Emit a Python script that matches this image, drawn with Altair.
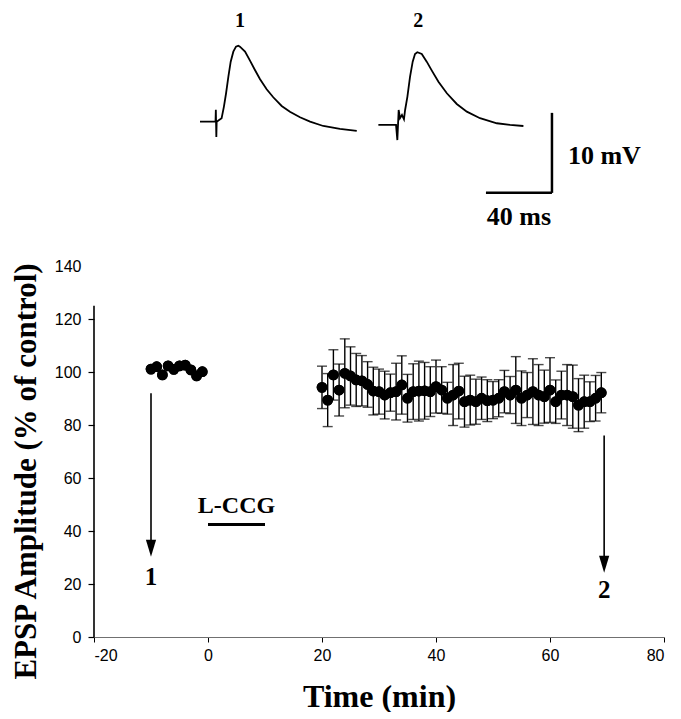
import altair as alt
import pandas as pd

# ---------------- time course (EPSP amplitude, % of control) ----------------
pre_time = [-10, -9, -8, -7, -6, -5, -4, -3, -2, -1]
pre_amp = [101.1, 102.0, 98.9, 102.3, 101.0, 102.3, 102.6, 100.8, 98.5, 100.1]

post_time = [20, 21, 22, 23, 24, 25, 26, 27, 28, 29,
             30, 31, 32, 33, 34, 35, 36, 37, 38, 39,
             40, 41, 42, 43, 44, 45, 46, 47, 48, 49,
             50, 51, 52, 53, 54, 55, 56, 57, 58, 59,
             60, 61, 62, 63, 64, 65, 66, 67, 68, 69]
post_amp = [94.2, 89.4, 98.9, 93.2, 99.5, 98.5, 97.0, 96.7, 95.3, 92.8,
            92.6, 91.3, 92.2, 92.6, 95.1, 90.1, 92.6, 92.8, 92.9, 92.6,
            94.5, 93.2, 90.1, 91.3, 92.8, 88.8, 89.4, 88.8, 90.1, 89.2,
            89.4, 90.1, 92.6, 91.3, 93.2, 90.1, 91.3, 92.6, 91.3, 90.7,
            93.2, 88.8, 91.3, 91.3, 90.7, 87.5, 88.8, 88.8, 90.1, 92.2]
post_sem = [8.0, 10.0, 9.5, 9.8, 13.0, 11.0, 10.0, 9.5, 8.6, 9.0,
            8.5, 9.0, 7.0, 10.7, 11.0, 9.0, 10.5, 11.3, 10.7, 9.4,
            10.0, 8.8, 6.0, 11.5, 10.5, 9.6, 9.4, 8.5, 8.0, 7.9,
            7.0, 7.0, 8.0, 7.0, 12.6, 10.3, 8.5, 12.4, 11.5, 10.0,
            12.2, 8.2, 9.0, 11.5, 11.9, 10.0, 10.0, 7.5, 8.6, 7.6]

# arrows marking the sampled sweeps
arrow_time = [-10, 69.5]
arrow_from = [92, 76]
arrow_head = [33.5, 27.5]
arrow_label_y = [22.6, 17.7]
arrow_labels = ["1", "2"]

# drug application bar
drug_label = "L-CCG"
drug_start, drug_end, drug_level = 0, 10, 42.5

# ---------------- sample EPSP sweeps (ms, mV rel. baseline) ----------------
trace1_ms = [0, 8.1, 9.4, 9.6, 9.9, 10.1, 13.1, 14.5, 15.8, 17.2, 18.6, 20.2, 21.8, 23.2,
             24.2, 27.3, 30.3, 33.3, 36.4, 40.4, 44.4, 49.5, 54.5, 60.6, 66.7, 74.7, 84.8, 95.0]
trace1_mv = [0, 0, 0, 1.5, -1.9, 0, 0.43, 1.88, 3.55, 5.63, 7.5, 8.75, 9.38, 9.5,
             9.38, 8.75, 7.63, 6.46, 5.3, 4.05, 3.05, 1.96, 1.25, 0.55, 0, -0.54, -0.91, -1.16]
trace2_ms = [0, 10.1, 10.7, 11.5, 12.3, 13.1, 14.3, 15.5, 16.2, 17.6, 19.2, 20.8, 22.2, 23.6,
             26.3, 29.3, 32.4, 36.4, 41.5, 47.5, 53.6, 61.6, 71.8, 79.8, 87.9]
trace2_mv = [-0.41, -0.41, -0.41, -2.3, 1.46, 0.43, 0.84, 0.3, 1.46, 3.13, 5.63, 7.5, 8.46, 8.68,
             8.46, 7.5, 6.38, 5.0, 3.55, 2.21, 1.25, 0.43, -0.2, -0.41, -0.54]
trace2_offset = 108.1          # ms, horizontal placement of sweep 2
sweep_label_ms = [24.2, 132.3]
sweep_label_mv = [12.6, 12.6]
sweep_labels = ["1", "2"]

# scale bars: 40 ms / 10 mV
bar_t0, bar_t1 = 173.3, 213.3
bar_v0, bar_v1 = -8.9, 1.1

SERIF = "Liberation Serif"
SANS = "Liberation Sans"

# ---------------- main panel ----------------
XS = alt.Scale(domain=[-20, 80], nice=False, zero=False)
YS = alt.Scale(domain=[0, 140], nice=False, zero=False)

x_axis = alt.Axis(values=[-20, 0, 20, 40, 60, 80], title="Time (min)", grid=False,
                  labelExpr="'' + datum.value",
                  domainColor="#707070", domainWidth=1.2,
                  tickColor="black", tickSize=5, tickWidth=1,
                  labelFont=SANS, labelFontSize=16, labelColor="black", labelPadding=5,
                  titleFont=SERIF, titleFontSize=32, titleFontWeight="bold", titleColor="black",
                  titleY=69, titleBaseline="alphabetic")
y_axis = alt.Axis(values=[0, 20, 40, 60, 80, 100, 120, 140],
                  title="EPSP Amplitude (% of control)", grid=False, domain=False,
                  labelExpr="'' + datum.value",
                  tickColor={"condition": {"test": "datum.value > 130", "value": "transparent"},
                             "value": "black"},
                  tickSize=6, tickWidth=1.2,
                  labelFont=SANS, labelFontSize=16, labelColor="black", labelPadding=7,
                  titleFont=SERIF, titleFontSize=31, titleFontWeight="bold", titleColor="black",
                  titleAngle=270, titleX=-59, titleY=205, titleAlign="center",
                  titleBaseline="alphabetic")

pts = pd.DataFrame({"time": pre_time + post_time, "amp": pre_amp + post_amp})
err = pd.DataFrame({"time": post_time,
                    "lo": [a - s for a, s in zip(post_amp, post_sem)],
                    "hi": [a + s for a, s in zip(post_amp, post_sem)]})

points = alt.Chart(pts).mark_circle(size=115, color="black", opacity=1).encode(
    x=alt.X("time:Q", scale=XS, axis=x_axis),
    y=alt.Y("amp:Q", scale=YS, axis=y_axis),
)
err_rule = alt.Chart(err).mark_rule(color="black", strokeWidth=1.4).encode(
    x=alt.X("time:Q", scale=XS), y=alt.Y("lo:Q", scale=YS), y2="hi:Q")
cap_lo = alt.Chart(err).mark_tick(color="black", orient="horizontal", size=10, thickness=1.4).encode(
    x=alt.X("time:Q", scale=XS), y=alt.Y("lo:Q", scale=YS))
cap_hi = alt.Chart(err).mark_tick(color="black", orient="horizontal", size=10, thickness=1.4).encode(
    x=alt.X("time:Q", scale=XS), y=alt.Y("hi:Q", scale=YS))

yline = alt.Chart(pd.DataFrame({"x": [-20], "y0": [0], "y1": [125]})).mark_rule(
    color="black", strokeWidth=1.6).encode(
    x=alt.X("x:Q", scale=XS), y=alt.Y("y0:Q", scale=YS), y2="y1:Q")

arr = pd.DataFrame({"time": arrow_time, "top": arrow_from, "head": arrow_head,
                    "ly": arrow_label_y, "lab": arrow_labels})
arrow_shaft = alt.Chart(arr).mark_rule(color="black", strokeWidth=1.6).encode(
    x=alt.X("time:Q", scale=XS), y=alt.Y("top:Q", scale=YS), y2="head:Q")
arrow_tip = alt.Chart(arr).mark_point(shape="M-0.6,-1L0.6,-1L0,1Z", filled=True, size=289,
                                      color="black", opacity=1).encode(
    x=alt.X("time:Q", scale=XS), y=alt.Y("head:Q", scale=YS))
arrow_text = alt.Chart(arr).mark_text(font=SERIF, fontSize=25, fontWeight="bold",
                                      color="black", baseline="middle").encode(
    x=alt.X("time:Q", scale=XS), y=alt.Y("ly:Q", scale=YS), text="lab:N")

drug = pd.DataFrame({"t0": [drug_start], "t1": [drug_end], "v": [drug_level],
                     "mid": [(drug_start + drug_end) / 2], "lab": [drug_label]})
drug_bar = alt.Chart(drug).mark_rule(color="black", strokeWidth=3).encode(
    x=alt.X("t0:Q", scale=XS), x2="t1:Q", y=alt.Y("v:Q", scale=YS))
drug_text = alt.Chart(drug).mark_text(font=SERIF, fontSize=24, fontWeight="bold",
                                      color="black", baseline="bottom", dy=-6).encode(
    x=alt.X("mid:Q", scale=XS), y=alt.Y("v:Q", scale=YS), text="lab:N")

main = alt.layer(points, err_rule, cap_lo, cap_hi, points, yline,
                 arrow_shaft, arrow_tip, arrow_text, drug_bar, drug_text)

# ---------------- sweeps panel (drawn above the plot) ----------------
TS = alt.Scale(domain=[-64.24, 281.2], nice=False, zero=False)
VS = alt.Scale(domain=[-64.41, -18.04], nice=False, zero=False)

rows = []
for i, (t, v) in enumerate(zip(trace1_ms, trace1_mv)):
    rows.append({"sweep": "1", "idx": i, "ms": t, "mv": v})
for i, (t, v) in enumerate(zip(trace2_ms, trace2_mv)):
    rows.append({"sweep": "2", "idx": i, "ms": t + trace2_offset, "mv": v})
tr = pd.DataFrame(rows)

traces = alt.Chart(tr).mark_line(color="black", strokeWidth=1.8).encode(
    x=alt.X("ms:Q", scale=TS, axis=None), y=alt.Y("mv:Q", scale=VS, axis=None),
    detail="sweep:N", order="idx:Q")

lab = pd.DataFrame({"ms": sweep_label_ms, "mv": sweep_label_mv, "lab": sweep_labels})
trace_labels = alt.Chart(lab).mark_text(font=SERIF, fontSize=20, fontWeight="bold",
                                        color="black", baseline="middle").encode(
    x=alt.X("ms:Q", scale=TS, axis=None), y=alt.Y("mv:Q", scale=VS, axis=None), text="lab:N")

bars = pd.DataFrame({"a": [bar_t0, bar_t1], "b": [bar_t1, bar_t1],
                     "c": [bar_v0, bar_v1], "d": [bar_v0, bar_v0]})
scale_bars = alt.Chart(bars).mark_rule(color="black", strokeWidth=2.5).encode(
    x=alt.X("a:Q", scale=TS, axis=None), x2="b:Q",
    y=alt.Y("c:Q", scale=VS, axis=None), y2="d:Q")

sb_lab = pd.DataFrame({"ms": [bar_t1, (bar_t0 + bar_t1) / 2],
                       "mv": [(bar_v0 + bar_v1) / 2, bar_v0],
                       "lab": ["10 mV", "40 ms"], "kind": ["v", "h"]})
sb_v = alt.Chart(sb_lab).transform_filter("datum.kind == 'v'").mark_text(
    font=SERIF, fontSize=26, fontWeight="bold", color="black",
    align="left", baseline="middle", dx=16, dy=3).encode(
    x=alt.X("ms:Q", scale=TS, axis=None), y=alt.Y("mv:Q", scale=VS, axis=None), text="lab:N")
sb_h = alt.Chart(sb_lab).transform_filter("datum.kind == 'h'").mark_text(
    font=SERIF, fontSize=26, fontWeight="bold", color="black",
    align="center", baseline="top", dy=11).encode(
    x=alt.X("ms:Q", scale=TS, axis=None), y=alt.Y("mv:Q", scale=VS, axis=None), text="lab:N")

sweeps = alt.layer(traces, trace_labels, scale_bars, sb_v, sb_h)

chart = alt.layer(main, sweeps).resolve_scale(x="independent", y="independent").properties(
    width=570, height=371,
    autosize=alt.AutoSizeParams(type="none"),
    padding={"left": 86, "top": 258, "right": 9, "bottom": 75},
    background="white",
).configure_view(stroke=None)

chart.save("out.html", embed_options={"renderer": "svg", "actions": False})
